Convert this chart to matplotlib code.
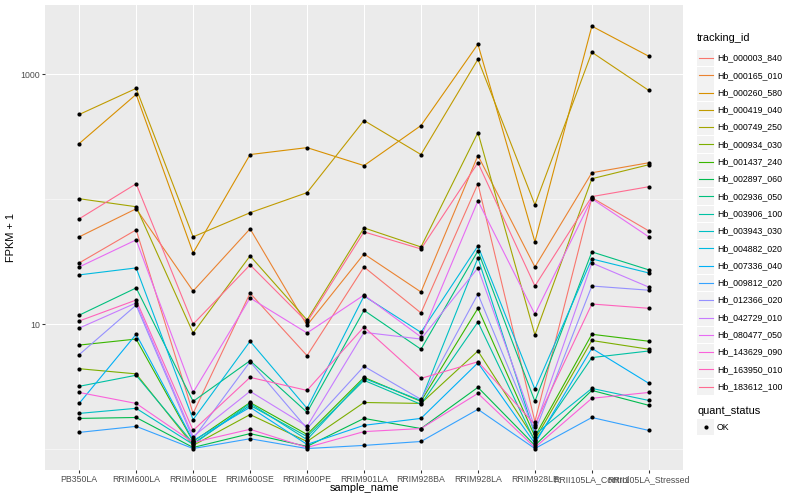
import numpy as np
import matplotlib.pyplot as plt
from matplotlib.lines import Line2D
from matplotlib.patches import Rectangle

# ggplot-like look, sizes given in px of a 72 dpi device converted to pt at 100 dpi
plt.rcParams['font.family'] = ['Liberation Sans', 'DejaVu Sans']
PX = 0.72

samples = ['PB350LA', 'RRIM600LA', 'RRIM600LE', 'RRIM600SE', 'RRIM600PE', 'RRIM901LA',
           'RRIM928BA', 'RRIM928LA', 'RRIM928LE', 'RRII105LA_Control', 'RRII105LA_Stressed']

tracking_ids = ['Hb_000003_840', 'Hb_000165_010', 'Hb_000260_580', 'Hb_000419_040',
                'Hb_000749_250', 'Hb_000934_030', 'Hb_001437_240', 'Hb_002897_060',
                'Hb_002936_050', 'Hb_003906_100', 'Hb_003943_030', 'Hb_004882_020',
                'Hb_007336_040', 'Hb_009812_020', 'Hb_012366_020', 'Hb_042729_010',
                'Hb_080477_050', 'Hb_143629_090', 'Hb_163950_010', 'Hb_183612_100']

# default ggplot hue palette for 20 levels
colors = ['#F8766D', '#EA8331', '#D89000', '#C09B00', '#A3A500', '#7CAE00', '#39B600',
          '#00BB4E', '#00BF7D', '#00C1A3', '#00BFC4', '#00BAE0', '#00B0F6', '#35A2FF',
          '#9590FF', '#C77CFF', '#E76BF3', '#FA62DB', '#FF62BC', '#FF6C91']

# FPKM + 1, one value per sample (same order as samples)
hb_000003_840 = [30.9, 56.9, 1.93, 17.7, 5.6, 28.7, 12.3, 133, 1.66, 103, 55.8]
hb_000165_010 = [50.0, 83.9, 18.4, 58.0, 9.8, 36.5, 18.1, 224, 28.7, 163, 196]
hb_000260_580 = [279, 691, 37.2, 228, 259, 186, 389, 1742, 45.6, 2430, 1395]
hb_000419_040 = [477, 772, 50.0, 78.0, 113, 427, 228, 1319, 90.3, 1502, 743]
hb_000749_250 = [101, 87.1, 8.5, 35.2, 10.8, 59.0, 41.5, 342, 8.2, 146, 189]
hb_000934_030 = [4.4, 4.0, 1.07, 1.89, 1.15, 2.36, 2.32, 6.1, 1.19, 7.4, 6.3]
hb_001437_240 = [6.8, 7.6, 1.15, 2.36, 1.31, 3.75, 2.41, 13.4, 1.26, 8.3, 7.3]
hb_002897_060 = [1.76, 1.79, 1.03, 1.33, 1.05, 1.76, 1.46, 3.12, 1.07, 2.95, 2.24]
hb_002936_050 = [11.8, 19.5, 2.41, 5.1, 1.97, 12.9, 6.3, 38.6, 2.41, 37.9, 27.2]
hb_003906_100 = [3.18, 3.9, 1.11, 2.24, 1.26, 3.55, 2.28, 10.4, 1.15, 5.4, 6.1]
hb_003943_030 = [1.93, 2.12, 1.09, 2.32, 1.19, 3.68, 2.45, 33.9, 1.31, 3.06, 2.45]
hb_004882_020 = [24.8, 28.2, 1.72, 7.3, 2.12, 16.8, 8.6, 42.3, 3.01, 33.3, 25.7]
hb_007336_040 = [2.32, 8.3, 1.17, 2.16, 1.09, 1.55, 1.76, 4.9, 1.11, 6.4, 3.36]
hb_009812_020 = [1.36, 1.52, 1.01, 1.21, 1.01, 1.07, 1.15, 2.08, 1.01, 1.79, 1.41]
hb_012366_020 = [5.7, 14.2, 1.21, 5.0, 1.46, 4.6, 2.50, 17.4, 1.38, 20.2, 18.7]
hb_042729_010 = [9.3, 14.8, 1.26, 2.90, 1.52, 8.6, 7.6, 28.2, 1.49, 30.9, 19.8]
hb_080477_050 = [28.7, 47.3, 2.84, 16.2, 8.5, 17.1, 7.9, 97.2, 12.0, 101, 50.0]
hb_143629_090 = [2.84, 2.32, 1.13, 1.44, 1.03, 1.38, 1.46, 2.79, 1.03, 2.55, 2.84]
hb_163950_010 = [10.6, 15.6, 1.41, 3.75, 2.95, 9.5, 3.68, 5.0, 1.57, 14.5, 13.4]
hb_183612_100 = [69.7, 133, 10.0, 29.8, 10.4, 54.8, 40.0, 196, 20.2, 105, 126]

series = [hb_000003_840, hb_000165_010, hb_000260_580, hb_000419_040, hb_000749_250,
          hb_000934_030, hb_001437_240, hb_002897_060, hb_002936_050, hb_003906_100,
          hb_003943_030, hb_004882_020, hb_007336_040, hb_009812_020, hb_012366_020,
          hb_042729_010, hb_080477_050, hb_143629_090, hb_163950_010, hb_183612_100]

W, H = 800, 500
fig = plt.figure(figsize=(8, 5), dpi=100)
ax = fig.add_axes([45 / W, 30 / H, 638 / W, 465 / H])
ax.set_facecolor('#EBEBEB')
for s in ax.spines.values():
    s.set_visible(False)

x = np.arange(1, len(samples) + 1)
for vals, c in zip(series, colors):
    ax.plot(x, vals, color=c, lw=0.8, zorder=3)
for vals in series:
    ax.plot(x, vals, 'o', color='black', markersize=3.0, markeredgewidth=0, zorder=4)

ax.set_yscale('log')
ax.set_ylim(0.68, 3590)
ax.set_xlim(0.4, len(samples) + 0.6)
ax.set_yticks([10, 1000])
ax.set_yticklabels(['10', '1000'])
ax.set_yticks([1, 100], minor=True)
ax.yaxis.set_minor_formatter(plt.NullFormatter())
ax.set_xticks(x)
ax.set_xticklabels(samples)

ax.grid(True, which='major', color='white', lw=1.07 * PX, zorder=0)
ax.grid(True, which='minor', axis='y', color='white', lw=0.55 * PX, zorder=0)
ax.set_axisbelow(True)
ax.tick_params(which='major', length=2.75 * PX, width=1.07 * PX, color='#333333',
               labelsize=8.8 * PX, labelcolor='#4D4D4D', pad=2.2 * PX)
ax.tick_params(which='minor', length=0)

ax.set_xlabel('sample_name', fontsize=11 * PX)
ax.set_ylabel('FPKM + 1', fontsize=11 * PX)
ax.xaxis.set_label_coords(0.5, -0.028)
ax.yaxis.set_label_coords(-0.045, 0.5)

# legends drawn by hand to mimic ggplot guide boxes
def fx(px):
    return px / W

def fy(py):
    return 1 - py / H

fig.text(fx(697), fy(38), 'tracking_id', fontsize=11 * PX, va='center', ha='left')
for i, (name, c) in enumerate(zip(tracking_ids, colors)):
    yc = 58 + i * 17.3
    fig.add_artist(Rectangle((fx(697), fy(yc + 8.2)), 17 / W, 16.4 / H,
                             transform=fig.transFigure, facecolor='#F2F2F2',
                             edgecolor='none'))
    fig.add_artist(Line2D([fx(698.5), fx(712.5)], [fy(yc), fy(yc)],
                          transform=fig.transFigure, color=c, lw=0.8))
    fig.text(fx(717), fy(yc), name, fontsize=8.8 * PX, va='center', ha='left')

fig.text(fx(697), fy(411), 'quant_status', fontsize=11 * PX, va='center', ha='left')
fig.add_artist(Rectangle((fx(697), fy(427 + 8.2)), 17 / W, 16.4 / H,
                         transform=fig.transFigure, facecolor='#F2F2F2', edgecolor='none'))
fig.add_artist(Line2D([fx(705.5)], [fy(427)], transform=fig.transFigure, marker='o',
                      color='black', markersize=3.0, markeredgewidth=0, linestyle='none'))
fig.text(fx(717), fy(427), 'OK', fontsize=8.8 * PX, va='center', ha='left')

fig.savefig('out.png', dpi=100, facecolor='white')
plt.close(fig)
